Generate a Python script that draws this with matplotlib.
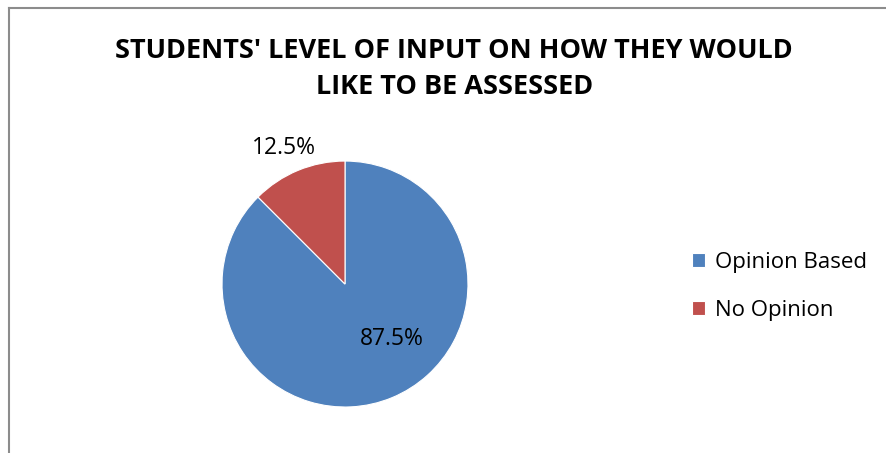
import matplotlib.pyplot as plt
from matplotlib.lines import Line2D

plt.rcParams['font.family'] = ['Open Sans', 'DejaVu Sans']

categories = ['Opinion Based', 'No Opinion']
shares = [87.5, 12.5]
colors = ['#4F81BD', '#C0504D']
title = "STUDENTS' LEVEL OF INPUT ON HOW THEY WOULD\nLIKE TO BE ASSESSED"

fig = plt.figure(figsize=(8.87, 4.53), dpi=100)

# chart area border (left and top edges only visible)
fig.add_artist(Line2D([9 / 887, 9 / 887], [0, 1 - 8 / 453], color='#8c8c8c', lw=1.5))
fig.add_artist(Line2D([9 / 887, 1], [1 - 8 / 453, 1 - 8 / 453], color='#8c8c8c', lw=1.5))

ax = fig.add_axes([0.2503, 0.1015, 0.2773, 0.543])
wedges, texts, autotexts = ax.pie(shares, colors=colors, startangle=90, counterclock=False,
                                  autopct='%.1f%%', radius=1,
                                  wedgeprops=dict(edgecolor='white', linewidth=0.8),
                                  textprops=dict(fontsize=16.5))
autotexts[0].set_position((0.38, -0.45))
autotexts[1].set_position((-0.50, 1.11))
ax.set_xlim(-1, 1)
ax.set_ylim(-1, 1)
ax.set_aspect('equal')

fig.text(0.512, 1 - 69 / 453, title, ha='center', va='center', fontsize=19.5,
         fontweight='bold', linespacing=1.5)

fig.legend(wedges, categories, loc='center left', bbox_to_anchor=(0.780, 0.368),
           frameon=False, fontsize=16, handlelength=0.6, handleheight=0.6,
           handletextpad=0.45, labelspacing=1.2, borderpad=0, borderaxespad=0)

fig.savefig('out.png', dpi=100)
